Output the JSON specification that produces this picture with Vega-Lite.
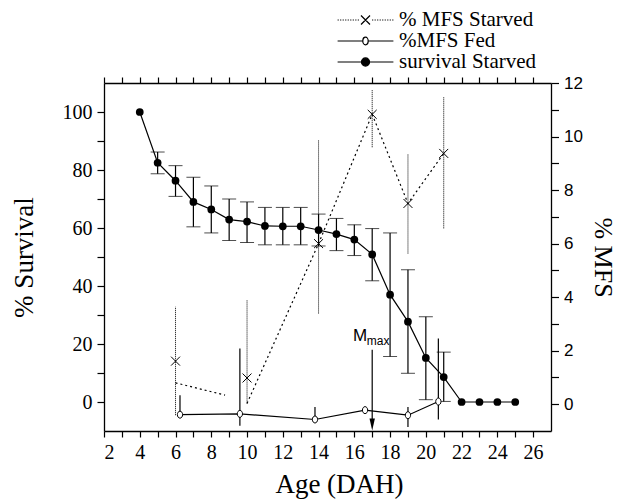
{
  "$schema": "https://vega.github.io/schema/vega-lite/v6.json",
  "width": 447,
  "height": 348,
  "autosize": {"type": "none"},
  "padding": {"left": 104, "top": 83, "right": 67, "bottom": 70},
  "background": "white",
  "config": {
    "view": {"stroke": null},
    "font": "Liberation Serif",
    "axis": {
      "domainColor": "black", "domainWidth": 1.3, "tickColor": "black", "tickWidth": 1.2,
      "labelColor": "black", "titleColor": "black", "labelFont": "Liberation Serif", "labelFontSize": 20,
      "titleFont": "Liberation Serif", "titleFontSize": 27, "titleFontWeight": "normal", "grid": false
    },
    "legend": {
      "labelFont": "Liberation Serif", "labelFontSize": 21, "labelColor": "black",
      "symbolStrokeColor": "black", "symbolStrokeWidth": 1.2, "padding": 0
    }
  },
  "datasets": {
    "surv": [
      {"age": 4, "s": 100},
      {"age": 5, "s": 82.5, "lo": 78.7, "hi": 86.2},
      {"age": 6, "s": 76.3, "lo": 70.9, "hi": 81.5},
      {"age": 7, "s": 69.0, "lo": 60.4, "hi": 77.5},
      {"age": 8, "s": 66.4, "lo": 58.3, "hi": 74.5},
      {"age": 9, "s": 62.9, "lo": 55.7, "hi": 70.0},
      {"age": 10, "s": 62.2, "lo": 55.0, "hi": 69.0},
      {"age": 11, "s": 60.7, "lo": 54.2, "hi": 67.1},
      {"age": 12, "s": 60.6, "lo": 54.2, "hi": 67.1},
      {"age": 13, "s": 60.6, "lo": 54.2, "hi": 67.1},
      {"age": 14, "s": 59.3, "lo": 53.8, "hi": 64.8},
      {"age": 15, "s": 57.9, "lo": 52.2, "hi": 63.3},
      {"age": 16, "s": 56.0, "lo": 50.5, "hi": 61.1},
      {"age": 17, "s": 50.9, "lo": 41.8, "hi": 59.8},
      {"age": 18, "s": 37.0, "lo": 15.7, "hi": 58.3},
      {"age": 19, "s": 27.7, "lo": 9.9, "hi": 45.6},
      {"age": 20, "s": 15.2, "lo": 0.8, "hi": 29.4},
      {"age": 21, "s": 8.6, "lo": 0.2, "hi": 17.2},
      {"age": 22, "s": 0},
      {"age": 23, "s": 0},
      {"age": 24, "s": 0},
      {"age": 25, "s": 0}
    ],
    "starvedPts": [
      {"age": 6, "m": 1.61, "lo": -0.41, "hi": 3.64},
      {"age": 10, "m": 0.98, "lo": 0.03, "hi": 3.89},
      {"age": 14, "m": 6.0, "lo": 3.39, "hi": 9.89},
      {"age": 17, "m": 10.83, "lo": 9.6, "hi": 11.76},
      {"age": 19, "m": 7.5, "lo": 5.63, "hi": 9.33},
      {"age": 21, "m": 9.37, "lo": 6.57, "hi": 11.47}
    ],
    "starvedLine": [
      {"age": 6, "m": 0.8, "seg": "a"},
      {"age": 8.77, "m": 0.34, "seg": "a"},
      {"age": 10, "m": 0.03, "seg": "b"},
      {"age": 14, "m": 6.0, "seg": "b"},
      {"age": 17, "m": 10.83, "seg": "b"},
      {"age": 19, "m": 7.5, "seg": "b"},
      {"age": 21, "m": 9.37, "seg": "b"}
    ],
    "fed": [
      {"age": 6.25, "m": -0.39, "lo": -0.39, "hi": 0.34},
      {"age": 9.6, "m": -0.36, "lo": -0.8, "hi": 2.08},
      {"age": 13.8, "m": -0.57, "lo": -0.57, "hi": -0.1},
      {"age": 16.6, "m": -0.22},
      {"age": 19.0, "m": -0.41, "lo": -0.85, "hi": -0.1},
      {"age": 20.7, "m": 0.1, "lo": -0.57, "hi": 2.46}
    ],
    "arrow": [{"age": 17, "from": 18, "to": -6, "head": -7.8}],
    "notes": [
      {"age": 16.32, "v": 21.1, "label": "M"},
      {"age": 16.7, "v": 19.5, "label": "max"}
    ]
  },
  "layer": [
    {
      "data": {"name": "surv"},
      "transform": [{"filter": "isValid(datum.lo)"}],
      "mark": {"type": "errorbar", "ticks": {"size": 14, "color": "black", "strokeWidth": 1.2}, "rule": {"color": "black", "strokeWidth": 1.2}},
      "encoding": {
        "x": {"field": "age", "type": "quantitative", "scale": {"domain": [2, 27], "nice": false, "zero": false}, "axis": null},
        "y": {"field": "lo", "type": "quantitative", "scale": {"domain": [-10, 110], "nice": false, "zero": false}, "axis": null},
        "y2": {"field": "hi"}
      }
    },
    {
      "data": {"name": "surv"},
      "mark": {"type": "line", "color": "black", "strokeWidth": 1.2},
      "encoding": {
        "x": {"field": "age", "type": "quantitative", "scale": {"domain": [2, 27], "nice": false, "zero": false},
          "axis": {"orient": "bottom", "title": "Age (DAH)", "values": [2,3,4,5,6,7,8,9,10,11,12,13,14,15,16,17,18,19,20,21,22,23,24,25,26],
            "labelExpr": "datum.value % 2 === 0 ? datum.label : ''",
            "labelFont": "Liberation Serif", "labelFontSize": 20,
            "tickSize": 6,
            "encode": {"ticks": {"update": {"y2": {"signal": "datum.value % 2 === 0 ? 6 : 3.5"}}},
                       "labels": {"update": {"font": {"value": "Liberation Serif"}}}},
            "labelPadding": 5, "titlePadding": 9, "titleX": 235, "titleFont": "Liberation Serif", "titleFontSize": 27}},
        "y": {"field": "s", "type": "quantitative", "scale": {"domain": [-10, 110], "nice": false, "zero": false},
          "axis": {"orient": "left", "title": "% Survival", "values": [0,10,20,30,40,50,60,70,80,90,100],
            "labelExpr": "datum.value % 20 === 0 ? datum.label : ''",
            "labelFont": "Liberation Serif", "labelFontSize": 20,
            "tickSize": 7,
            "encode": {"ticks": {"update": {"x2": {"signal": "datum.value % 20 === 0 ? -7 : -4"}}},
                       "labels": {"update": {"font": {"value": "Liberation Serif"}}}},
            "labelPadding": 5, "titlePadding": 24, "titleFont": "Liberation Serif", "titleFontSize": 27}}
      }
    },
    {
      "data": {"name": "surv"},
      "mark": {"type": "point", "shape": "circle", "filled": true, "color": "black", "size": 60, "opacity": 1},
      "encoding": {
        "x": {"field": "age", "type": "quantitative", "axis": null},
        "y": {"field": "s", "type": "quantitative", "scale": {"domain": [-10, 110], "nice": false, "zero": false}, "axis": null}
      }
    },
    {
      "data": {"name": "arrow"},
      "mark": {"type": "rule", "color": "black", "strokeWidth": 1.2},
      "encoding": {
        "x": {"field": "age", "type": "quantitative", "axis": null},
        "y": {"field": "from", "type": "quantitative", "scale": {"domain": [-10, 110], "nice": false, "zero": false}, "axis": null},
        "y2": {"field": "to"}
      }
    },
    {
      "data": {"name": "arrow"},
      "mark": {"type": "point", "shape": "M-0.45,-1L0.45,-1L0,1Z", "filled": true, "color": "black", "size": 144, "opacity": 1},
      "encoding": {
        "x": {"field": "age", "type": "quantitative", "axis": null},
        "y": {"field": "head", "type": "quantitative", "scale": {"domain": [-10, 110], "nice": false, "zero": false}, "axis": null}
      }
    },
    {
      "data": {"name": "notes"},
      "transform": [{"filter": "datum.label === 'M'"}],
      "mark": {"type": "text", "font": "Liberation Sans", "fontSize": 17, "align": "center", "baseline": "alphabetic", "color": "black"},
      "encoding": {
        "x": {"field": "age", "type": "quantitative", "axis": null},
        "y": {"field": "v", "type": "quantitative", "scale": {"domain": [-10, 110], "nice": false, "zero": false}, "axis": null},
        "text": {"field": "label"}
      }
    },
    {
      "data": {"name": "notes"},
      "transform": [{"filter": "datum.label === 'max'"}],
      "mark": {"type": "text", "font": "Liberation Sans", "fontSize": 12, "align": "left", "baseline": "alphabetic", "color": "black"},
      "encoding": {
        "x": {"field": "age", "type": "quantitative", "axis": null},
        "y": {"field": "v", "type": "quantitative", "scale": {"domain": [-10, 110], "nice": false, "zero": false}, "axis": null},
        "text": {"field": "label"}
      }
    },
    {
      "data": {"name": "starvedPts"},
      "mark": {"type": "rule", "color": "black", "strokeWidth": 1, "strokeDash": [1, 1]},
      "encoding": {
        "x": {"field": "age", "type": "quantitative", "axis": null},
        "y": {"field": "lo", "type": "quantitative", "scale": {"domain": [-1, 12], "nice": false, "zero": false}, "axis": null},
        "y2": {"field": "hi"}
      }
    },
    {
      "data": {"name": "fed"},
      "transform": [{"filter": "isValid(datum.lo)"}],
      "mark": {"type": "rule", "color": "black", "strokeWidth": 1.2},
      "encoding": {
        "x": {"field": "age", "type": "quantitative", "axis": null},
        "y": {"field": "lo", "type": "quantitative", "scale": {"domain": [-1, 12], "nice": false, "zero": false}, "axis": null},
        "y2": {"field": "hi"}
      }
    },
    {
      "data": {"name": "starvedLine"},
      "mark": {"type": "line", "color": "black", "strokeWidth": 1.2, "strokeDash": [2, 3]},
      "encoding": {
        "x": {"field": "age", "type": "quantitative", "axis": null},
        "y": {"field": "m", "type": "quantitative", "scale": {"domain": [-1, 12], "nice": false, "zero": false}, "axis": null},
        "detail": {"field": "seg"}
      }
    },
    {
      "data": {"name": "fed"},
      "mark": {"type": "line", "color": "black", "strokeWidth": 1.2},
      "encoding": {
        "x": {"field": "age", "type": "quantitative", "scale": {"domain": [2, 27], "nice": false, "zero": false},
          "axis": {"orient": "top", "title": null, "labels": false, "values": [2,3,4,5,6,7,8,9,10,11,12,13,14,15,16,17,18,19,20,21,22,23,24,25,26],
            "tickSize": 6,
            "encode": {"ticks": {"update": {"y2": {"value": 6}}}}}},
        "y": {"field": "m", "type": "quantitative", "scale": {"domain": [-1, 12], "nice": false, "zero": false},
          "axis": {"orient": "right", "title": "% MFS", "values": [0,1,2,3,4,5,6,7,8,9,10,11,12],
            "labelExpr": "datum.value % 2 === 0 ? datum.label : ''",
            "tickSize": 7.5,
            "encode": {"ticks": {"update": {"x2": {"signal": "datum.value % 2 === 0 ? -7.5 : -3.7"}}}},
            "labelPadding": 5, "labelFont": "Liberation Sans", "labelFontSize": 17, "titlePadding": 7, "titleAngle": 90,
            "titleFont": "Liberation Serif", "titleFontSize": 26}}
      }
    },
    {
      "data": {"name": "starvedPts"},
      "mark": {"type": "point", "shape": "M-1,-1L1,1M-1,1L1,-1", "filled": false, "color": "black", "strokeWidth": 1, "size": 80, "opacity": 1},
      "encoding": {
        "x": {"field": "age", "type": "quantitative", "axis": null},
        "y": {"field": "m", "type": "quantitative", "scale": {"domain": [-1, 12], "nice": false, "zero": false}, "axis": null}
      }
    },
    {
      "data": {"name": "fed"},
      "mark": {"type": "point", "shape": "M0.75,0A0.75,1 0 1,1 -0.75,0A0.75,1 0 1,1 0.75,0", "fill": "white", "stroke": "black", "strokeWidth": 1, "size": 49, "opacity": 1},
      "encoding": {
        "x": {"field": "age", "type": "quantitative", "axis": null},
        "y": {"field": "m", "type": "quantitative", "scale": {"domain": [-1, 12], "nice": false, "zero": false}, "axis": null}
      }
    },
    {
      "data": {"values": [{"series": "% MFS Starved"}, {"series": "%MFS Fed"}, {"series": "survival Starved"}]},
      "transform": [{"filter": "false"}],
      "mark": {"type": "point", "strokeWidth": 1.2, "opacity": 1},
      "encoding": {
        "shape": {"field": "series", "type": "nominal",
          "scale": {"domain": ["% MFS Starved", "%MFS Fed", "survival Starved"],
            "range": [
              "M-3.1,0h0.13m0.15,0h0.13m0.15,0h0.13m0.15,0h0.13m0.15,0h0.13m0.15,0h0.13m0.15,0h0.13m0.15,0h0.13m0.15,0h0.13M0.73,0h0.13m0.15,0h0.13m0.15,0h0.13m0.15,0h0.13m0.15,0h0.13m0.15,0h0.13m0.15,0h0.13m0.15,0h0.13m0.15,0h0.13M-0.5,-0.5L0.5,0.5M-0.5,0.5L0.5,-0.5",
              "M-3.1,0H-0.3M0.3,0H3.1M0.3,0A0.3,0.42 0 1,1 -0.3,0A0.3,0.42 0 1,1 0.3,0",
              "M-3.1,0H-0.45M0.45,0H3.1M0.45,0A0.45,0.45 0 1,1 -0.45,0A0.45,0.45 0 1,1 0.45,0"
            ]},
          "legend": {"orient": "none", "legendX": 251, "legendY": -73.5, "title": null, "symbolSize": 324, "labelOffset": 23, "rowPadding": -1}},
        "fill": {"field": "series", "type": "nominal",
          "scale": {"domain": ["% MFS Starved", "%MFS Fed", "survival Starved"], "range": ["black", "white", "black"]},
          "legend": {"orient": "none", "legendX": 251, "legendY": -73.5, "title": null, "symbolSize": 324, "labelOffset": 23, "rowPadding": -1}},
        "stroke": {"field": "series", "type": "nominal",
          "scale": {"domain": ["% MFS Starved", "%MFS Fed", "survival Starved"], "range": ["black", "black", "black"]},
          "legend": {"orient": "none", "legendX": 251, "legendY": -73.5, "title": null, "symbolSize": 324, "labelOffset": 23, "rowPadding": -1}}
      }
    }
  ],
  "resolve": {"scale": {"y": "independent"}}
}
